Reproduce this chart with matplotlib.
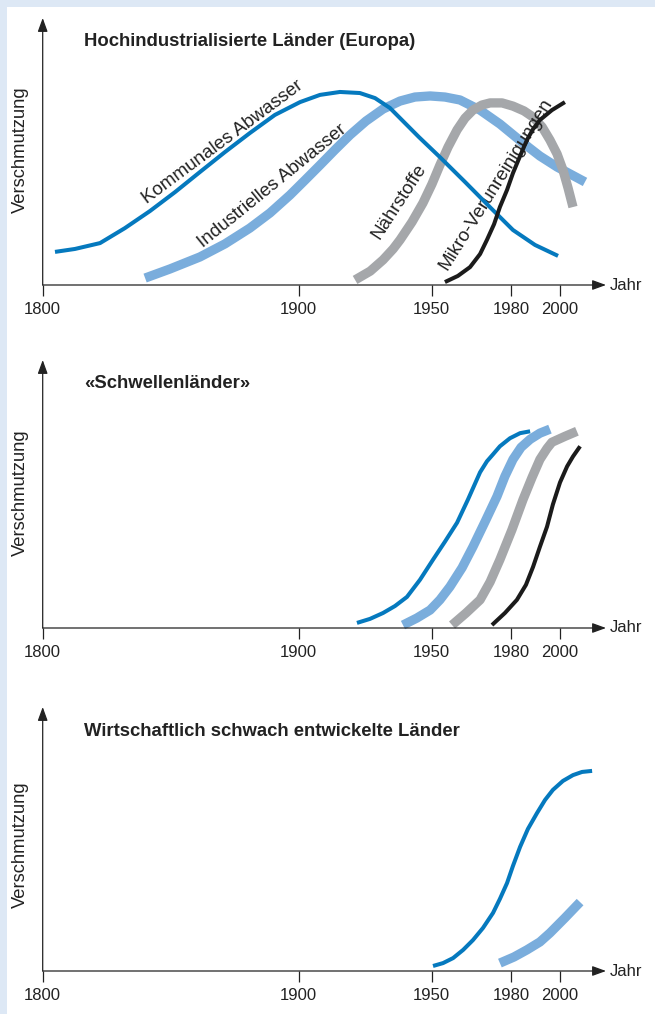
import numpy as np
import matplotlib.pyplot as plt
from matplotlib.patches import Rectangle

plt.rcParams['font.family'] = ['Liberation Sans', 'DejaVu Sans']

# time axis: tick years (the axis in the original is slightly stretched)
tick_years = [1800, 1900, 1950, 1980, 2000]
tick_labels = ['1800', '1900', '1950', '1980', '2000']

# --- Hochindustrialisierte Länder (Europa)
komm_years = [1804.8, 1812.6, 1822.4, 1832.1, 1841.9, 1851.7, 1861.4, 1871.2, 1880.9, 1890.7,
              1900.5, 1908.0, 1915.5, 1923.0, 1928.7, 1934.3, 1939.6, 1945.2, 1953.1, 1962.6,
              1972.0, 1980.8, 1989.8, 1999.2]
komm_vals = [12.4, 13.5, 15.7, 21.3, 27.7, 34.8, 42.3, 49.8, 56.9, 63.7,
             68.5, 71.2, 72.3, 71.9, 70.0, 66.3, 61.0, 55.4, 47.9, 38.6,
             29.2, 20.6, 15.0, 10.9]
indu_years = [1840.0, 1849.7, 1861.4, 1871.2, 1880.9, 1888.8, 1896.6, 1902.4, 1908.0, 1913.6,
              1919.3, 1925.3, 1931.7, 1938.1, 1943.7, 1949.4, 1955.0, 1960.7, 1968.3, 1975.8,
              1984.9, 1991.8, 1998.8, 2004.9, 2010.2]
indu_vals = [2.6, 6.0, 10.5, 15.4, 21.3, 27.0, 33.7, 39.3, 44.9, 50.6,
             56.2, 61.4, 65.9, 68.9, 70.4, 70.8, 70.4, 69.3, 65.5, 60.3,
             53.2, 48.3, 44.2, 41.2, 38.6]
naehr_years = [1921.2, 1926.9, 1931.7, 1935.5, 1938.1, 1942.6, 1946.7, 1950.1, 1953.1, 1956.2,
               1959.6, 1962.6, 1965.6, 1969.0, 1972.1, 1976.6, 1980.8, 1985.3, 1989.0, 1992.7,
               1995.9, 1998.8, 2001.2, 2003.3, 2005.3]
naehr_vals = [1.9, 5.2, 9.4, 13.5, 16.9, 23.6, 30.7, 37.8, 44.9, 51.7,
              58.1, 62.5, 65.5, 67.4, 68.2, 68.2, 67.0, 65.2, 62.9, 59.2,
              54.3, 49.1, 43.1, 36.3, 29.2]
mikro_years = [1955.0, 1959.9, 1964.5, 1968.3, 1970.9, 1973.6, 1975.8, 1978.5, 1980.8, 1983.7,
               1986.5, 1989.0, 1991.8, 1996.7, 2002.0]
mikro_vals = [1.1, 3.4, 6.7, 11.6, 16.9, 22.8, 29.2, 35.6, 41.9, 48.3,
              54.3, 58.4, 61.8, 65.5, 68.5]

# --- «Schwellenländer»
s_komm_years = [1921.9, 1926.8, 1931.7, 1936.2, 1940.7, 1945.6, 1950.5, 1955.0, 1959.6, 1963.7,
                1968.3, 1970.9, 1973.2, 1975.8, 1979.6, 1983.7, 1987.8]
s_komm_vals = [1.9, 3.4, 5.6, 8.2, 11.6, 18.0, 25.5, 32.2, 39.3, 47.9,
               58.1, 62.2, 64.8, 67.8, 70.8, 72.7, 73.4]
s_indu_years = [1939.2, 1944.4, 1949.4, 1953.1, 1956.9, 1961.5, 1965.6, 1970.2, 1974.7, 1977.7,
                1980.8, 1984.1, 1987.8, 1991.8, 1995.9]
s_indu_vals = [1.1, 3.7, 6.7, 10.5, 15.4, 22.5, 30.3, 39.7, 49.1, 56.6,
               62.9, 67.4, 70.4, 72.7, 74.2]
s_naehr_years = [1957.7, 1963.0, 1968.3, 1972.1, 1975.8, 1980.4, 1984.9, 1988.6, 1991.8, 1994.7,
                 1996.7, 2002.0, 2006.9]
s_naehr_vals = [1.1, 5.6, 10.5, 17.2, 25.5, 36.7, 47.9, 56.2, 62.9, 67.0,
                69.3, 71.5, 73.4]
s_mikro_years = [1972.8, 1977.7, 1982.4, 1986.1, 1989.0, 1991.8, 1994.7, 1997.1, 2000.0, 2002.9,
                 2005.3, 2008.2]
s_mikro_vals = [1.1, 5.6, 10.5, 16.1, 22.8, 30.3, 37.8, 46.1, 54.3, 60.3,
                64.0, 67.8]

# --- Wirtschaftlich schwach entwickelte Länder
w_komm_years = [1950.5, 1954.3, 1958.1, 1961.9, 1965.6, 1969.4, 1973.2, 1975.8, 1978.5, 1980.8,
                1983.7, 1986.9, 1990.6, 1993.9, 1997.1, 2001.2, 2005.3, 2009.0, 2013.1]
w_komm_vals = [1.9, 3.0, 4.9, 8.0, 11.7, 16.3, 22.0, 27.3, 33.3, 39.8,
               47.0, 53.8, 59.8, 64.8, 68.6, 72.0, 74.2, 75.4, 75.8]
w_indu_years = [1975.8, 1981.2, 1986.5, 1991.8, 1995.9, 2002.0, 2008.2]
w_indu_vals = [3.0, 5.3, 8.0, 11.0, 14.4, 20.1, 26.1]

titles = ['Hochindustrialisierte Länder (Europa)', '«Schwellenländer»',
          'Wirtschaftlich schwach entwickelte Länder']

# colours
DARK = '#0579be'
LIGHT = '#7aaddc'
GREY = '#a5a7aa'
BLACK = '#1b1b1b'
INK = '#222222'

# where the tick years sit on the page (pixels), used for the stretched scale
_pos = [42.7, 298.7, 431.7, 511.0, 560.0]


def fwd(x):
    x = np.asarray(x, dtype=float)
    out = np.interp(x, tick_years, _pos)
    out = np.where(x > 2000, _pos[-1] + (x - 2000) * 2.45, out)
    out = np.where(x < 1800, _pos[0] + (x - 1800) * 2.56, out)
    return out


def inv(p):
    p = np.asarray(p, dtype=float)
    out = np.interp(p, _pos, tick_years)
    out = np.where(p > _pos[-1], 2000 + (p - _pos[-1]) / 2.45, out)
    out = np.where(p < _pos[0], 1800 + (p - _pos[0]) / 2.56, out)
    return out


W, H = 655, 1014
fig = plt.figure(figsize=(W / 100, H / 100), dpi=100)
fig.patch.set_facecolor('#dde8f5')
fig.add_artist(Rectangle((7 / W, 0), 1, (H - 7) / H, transform=fig.transFigure,
                         facecolor='white', edgecolor='none', zorder=0))

# (axis line y, arrow top y, title y, ylabel y) in page pixels
rows = [(285, 18, 41, 150), (628, 360, 384, 493), (971, 707, 732, 845)]
x_left, x_right = 42.7, 606

# (years, values, colour, width, zorder)
panels = [
    [(komm_years, komm_vals, DARK, 2.9, 4), (indu_years, indu_vals, LIGHT, 6.7, 2),
     (naehr_years, naehr_vals, GREY, 6.7, 2), (mikro_years, mikro_vals, BLACK, 2.9, 4)],
    [(s_komm_years, s_komm_vals, DARK, 2.9, 4), (s_indu_years, s_indu_vals, LIGHT, 6.7, 2),
     (s_naehr_years, s_naehr_vals, GREY, 6.7, 2), (s_mikro_years, s_mikro_vals, BLACK, 2.9, 4)],
    [(w_komm_years, w_komm_vals, DARK, 2.9, 4), (w_indu_years, w_indu_vals, LIGHT, 6.7, 2)],
]

for i, (axis_y, top_y, title_y, ylab_y) in enumerate(rows):
    ax = fig.add_axes([x_left / W, (H - axis_y) / H,
                       (x_right - x_left) / W, (axis_y - top_y) / H])
    ax.set_facecolor('none')
    ax.set_xscale('function', functions=(fwd, inv))
    ax.set_xlim(1800, float(inv(x_right)))
    ax.set_ylim(0, 100)
    for s in ax.spines.values():
        s.set_visible(False)
    ax.set_yticks([])
    ax.set_xticks(tick_years)
    ax.set_xticks([], minor=True)
    ax.set_xticklabels(tick_labels)
    ax.tick_params(axis='x', length=8, width=0.9, direction='out', color=INK,
                   labelsize=12, labelcolor=INK, pad=4)

    arrow = dict(arrowstyle='-|>,head_length=0.55,head_width=0.2', mutation_scale=15,
                 lw=0.9, color=INK, shrinkA=0, shrinkB=0)
    ax.annotate('', xy=(1, 0), xytext=(0, 0), xycoords='axes fraction', arrowprops=arrow)
    ax.annotate('', xy=(0, 1), xytext=(0, 0), xycoords='axes fraction', arrowprops=arrow)
    ax.text(1.006, 0, 'Jahr', transform=ax.transAxes, ha='left', va='center',
            fontsize=12, color=INK)

    for xs, ys, c, lw, z in panels[i]:
        ax.plot(xs, ys, color=c, lw=lw, solid_capstyle='butt', solid_joinstyle='round',
                clip_on=False, zorder=z)

    fig.text(84 / W, 1 - title_y / H, titles[i], fontsize=13.3, fontweight='bold',
             ha='left', va='center', color=INK)
    fig.text(20 / W, 1 - ylab_y / H, 'Verschmutzung', rotation=90, fontsize=13.2,
             ha='center', va='center', color=INK)

    if i == 0:
        lab = dict(fontsize=13.5, color=INK, ha='center', va='center',
                   rotation_mode='anchor', zorder=3)
        ax.text(1870.4, 53.4, 'Kommunales Abwasser', rotation=36.6, **lab)
        ax.text(1889.6, 37.1, 'Industrielles Abwasser', rotation=39, **lab)
        ax.text(1937.7, 31.1, 'Nährstoffe', rotation=57, **lab)
        ax.text(1974.3, 37.6, 'Mikro-Verunreinigungen', rotation=58, **lab)

fig.savefig('out.png', dpi=100)
